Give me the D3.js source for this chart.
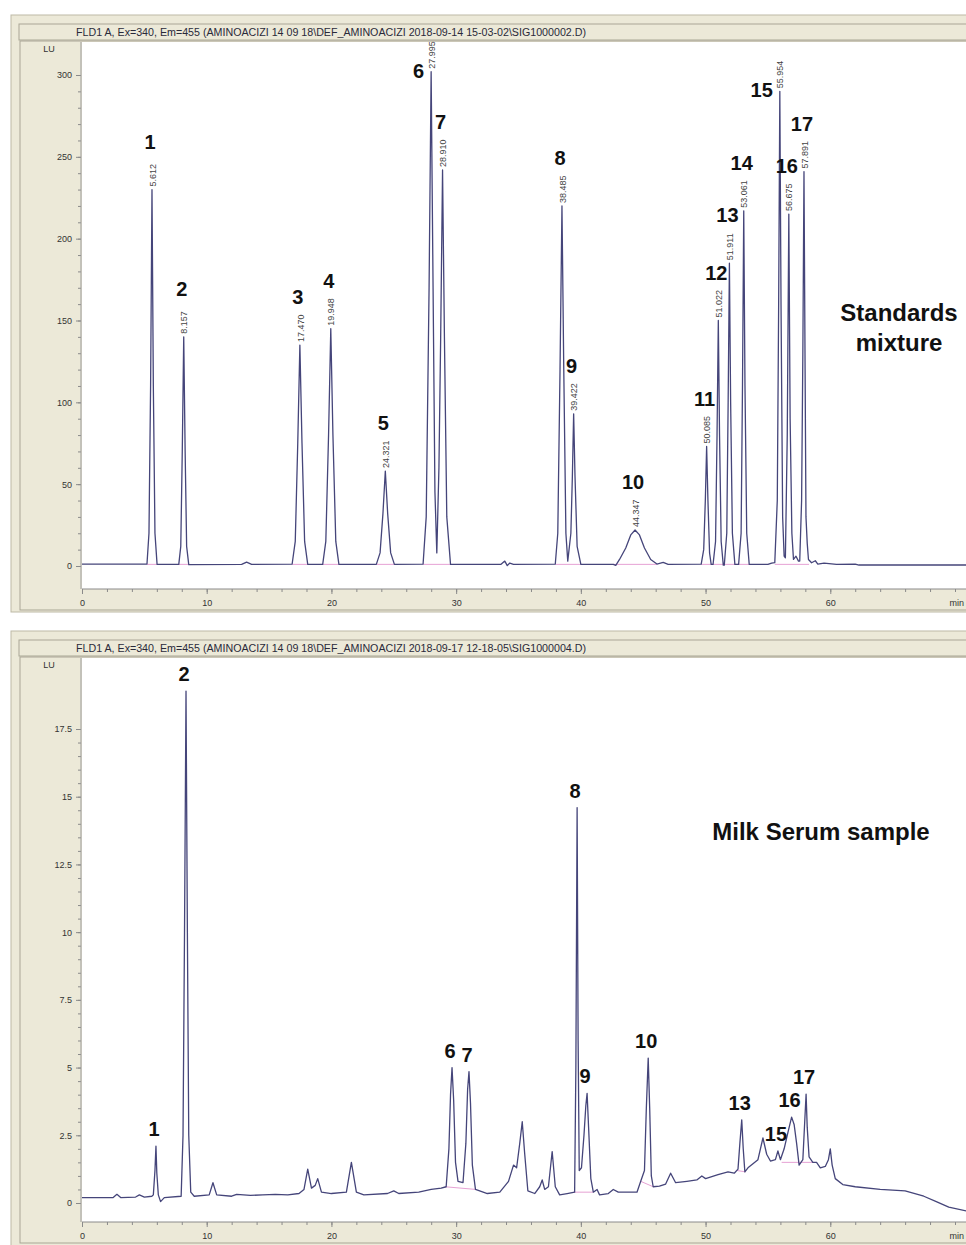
<!DOCTYPE html>
<html>
<head>
<meta charset="utf-8">
<script src="https://cdn.jsdelivr.net/npm/d3@7"></script>
<style>
  body { margin: 0; background: #fff; }
  svg { display: block; font-family: Arial, "Liberation Sans", sans-serif; }
</style>
</head>
<body>
<svg id="chart" width="966" height="1245"></svg>
<script>
// --- data (time in min, signal in LU) ---

var stdTitle = "FLD1 A, Ex=340, Em=455 (AMINOACIZI  14 09 18\\DEF_AMINOACIZI 2018-09-14 15-03-02\\SIG1000002.D)";
var milkTitle = "FLD1 A, Ex=340, Em=455 (AMINOACIZI  14 09 18\\DEF_AMINOACIZI 2018-09-17 12-18-05\\SIG1000004.D)";

var timeTicks = [0, 10, 20, 30, 40, 50, 60];
var stdTicks = [0, 50, 100, 150, 200, 250, 300];
var milkTicks = [0, 2.5, 5, 7.5, 10, 12.5, 15, 17.5];

// standards mixture trace
var stdTrace = [
  [0, 1.2], [5.0, 1.2],
  [5.21, 1.2], [5.37, 20], [5.5, 110], [5.612, 230], [5.72, 110], [5.85, 20], [6.02, 1.0],
  [7.7, 1.0],
  [7.76, 1.0], [7.92, 12], [8.04, 70], [8.157, 140], [8.27, 70], [8.39, 12], [8.56, 0.8],
  [12.8, 1.0], [13.2, 2.4], [13.6, 1.0],
  [16.85, 1.2], [17.1, 15], [17.3, 75], [17.47, 135], [17.64, 75], [17.85, 15], [18.1, 1.0],
  [19.3, 1.0], [19.55, 15], [19.77, 80], [19.948, 145], [20.12, 80], [20.35, 15], [20.6, 1.0],
  [23.6, 1.0], [23.9, 8], [24.13, 32], [24.321, 58], [24.51, 32], [24.75, 8], [25.05, 1.0],
  [27.35, 1.2], [27.6, 30], [27.83, 170], [27.995, 302], [28.15, 170], [28.3, 45], [28.45, 8],
  [28.62, 60], [28.76, 140], [28.91, 242], [29.06, 140], [29.25, 30], [29.55, 1.0],
  [33.6, 1.0], [33.9, 3], [34.1, 0.2], [34.3, 1.8], [34.6, 1.0],
  [37.95, 1.2], [38.15, 20], [38.33, 120], [38.485, 220], [38.63, 120], [38.8, 20], [38.95, 3],
  [39.2, 20], [39.32, 55], [39.422, 93], [39.53, 55], [39.7, 12], [40.0, 1.0],
  [42.6, 1.0], [42.8, 0.4], [43.1, 4], [43.6, 11], [44.0, 19], [44.347, 22], [44.7, 19],
  [45.1, 11], [45.6, 4], [46.1, 1.2], [46.6, 2.2], [47.0, 1.0],
  [49.65, 1.2], [49.85, 10], [49.98, 40], [50.085, 73], [50.19, 40], [50.32, 8], [50.45, 1],
  [50.6, 1], [50.8, 15], [50.92, 80], [51.022, 150], [51.12, 80], [51.25, 15], [51.42, 0.5],
  [51.5, 0.5], [51.7, 20], [51.81, 100], [51.911, 185], [52.01, 100], [52.15, 20], [52.35, 1],
  [52.65, 1], [52.85, 20], [52.96, 110], [53.061, 217], [53.16, 110], [53.3, 20], [53.5, 1],
  [55.0, 1], [55.3, 1.8], [55.55, 2],
  [55.75, 40], [55.86, 160], [55.954, 290], [56.05, 160], [56.18, 30], [56.3, 6],
  [56.4, 5], [56.55, 80], [56.675, 215], [56.78, 90], [56.92, 20], [57.05, 4], [57.25, 6], [57.45, 3],
  [57.55, 3], [57.7, 40], [57.8, 130], [57.891, 241], [57.98, 120], [58.05, 30], [58.15, 14],
  [58.25, 4], [58.5, 2], [58.8, 3.2], [59.0, 1.2], [59.5, 1.8], [60.5, 1],
  [62.0, 1.2], [62.3, 0.6], [71, 0.6]
];

// standards peaks: number, retention time, apex height
var stdPeakNo = [1, 2, 3, 4, 5, 6, 7, 8, 9, 10, 11, 12, 13, 14, 15, 16, 17];
var stdPeakRt = [5.612, 8.157, 17.470, 19.948, 24.321, 27.995, 28.910, 38.485, 39.422,
  44.347, 50.085, 51.022, 51.911, 53.061, 55.954, 56.675, 57.891];
var stdPeakTop = [230, 140, 135, 145, 58, 302, 242, 220, 93, 22, 73, 150, 185, 217, 290, 215, 241];

// integration baselines (t start, t end) at the trace baseline
var stdBaselines = [[5.2, 6.0], [7.75, 8.55], [16.85, 18.1], [19.3, 20.6], [23.6, 25.05],
  [27.35, 29.55], [37.95, 40.0], [42.6, 46.1], [49.65, 53.5], [55.55, 58.3]];

// milk serum sample trace
var milkTrace = [
  [0, 0.2], [2.5, 0.2], [2.8, 0.32], [3.1, 0.2], [4.3, 0.22], [4.6, 0.3], [5.0, 0.22], [5.6, 0.25],
  [5.72, 0.3], [5.85, 1.2], [5.93, 2.1], [6.0, 1.1], [6.12, 0.3], [6.3, 0.05], [6.6, 0.2],
  [7.95, 0.25], [8.1, 2.5], [8.22, 10], [8.34, 18.9], [8.45, 10], [8.56, 2.5], [8.72, 0.4], [9.0, 0.25],
  [10.2, 0.3], [10.5, 0.75], [10.8, 0.3],
  [12.0, 0.25], [12.4, 0.32], [13.5, 0.28], [14.5, 0.3], [15.5, 0.32], [16.5, 0.3], [17.4, 0.35],
  [17.8, 0.5], [18.1, 1.25], [18.4, 0.55], [18.7, 0.65], [18.9, 0.9], [19.2, 0.4], [20.0, 0.35],
  [21.2, 0.4], [21.6, 1.5], [22.0, 0.4], [22.6, 0.3], [24.5, 0.35], [25.0, 0.45], [25.4, 0.35],
  [27.0, 0.4], [28.0, 0.5], [28.8, 0.55],
  [29.2, 0.6], [29.42, 2.0], [29.55, 4.0], [29.67, 5.0], [29.8, 3.8], [29.95, 1.5], [30.15, 0.8],
  [30.55, 0.75], [30.78, 2.2], [30.92, 4.2], [31.03, 4.85], [31.15, 3.7], [31.3, 1.4], [31.55, 0.5],
  [32.5, 0.35], [33.5, 0.4], [34.2, 0.8], [34.6, 1.4], [34.85, 1.3], [35.1, 2.2], [35.3, 3.0],
  [35.5, 1.8], [35.75, 0.45], [36.3, 0.35], [36.7, 0.6], [36.9, 0.85], [37.1, 0.5], [37.4, 0.6],
  [37.7, 1.9], [37.95, 0.6], [38.3, 0.3], [38.9, 0.35],
  [39.5, 0.4], [39.6, 5], [39.7, 14.6], [39.78, 6], [39.87, 1.2],
  [40.05, 1.3], [40.25, 2.5], [40.4, 3.6], [40.5, 4.05], [40.62, 2.8], [40.8, 0.9], [41.0, 0.4],
  [41.3, 0.5], [41.5, 0.3], [42.2, 0.35], [42.6, 0.5], [43.0, 0.4], [44.5, 0.4], [44.8, 0.8],
  [45.1, 1.2], [45.25, 3.5], [45.4, 5.35], [45.52, 3.5], [45.65, 1.0], [45.8, 0.6],
  [46.3, 0.62], [46.8, 0.7], [47.2, 1.1], [47.6, 0.75], [48.5, 0.8], [49.3, 0.85], [49.7, 1.0],
  [50.0, 0.9], [51.0, 1.05], [51.8, 1.15], [52.3, 1.1],
  [52.6, 1.25], [52.75, 2.2], [52.9, 3.07], [53.02, 2.0], [53.15, 1.15], [53.4, 1.3],
  [53.8, 1.45], [54.2, 1.6], [54.6, 2.4], [54.9, 1.8], [55.2, 1.55], [55.6, 1.6], [55.8, 1.92],
  [56.0, 1.6], [56.3, 2.0], [56.6, 2.6], [56.9, 3.17], [57.1, 2.9], [57.3, 2.2], [57.5, 1.4],
  [57.8, 1.6], [57.95, 3.0], [58.06, 4.02], [58.15, 2.8], [58.3, 1.7], [58.6, 1.5], [58.9, 1.5],
  [59.2, 1.3], [59.6, 1.35], [59.85, 1.6], [60.0, 2.0], [60.15, 1.4], [60.4, 0.9], [61.0, 0.68],
  [62.0, 0.6], [64.0, 0.5], [66.0, 0.45], [67.5, 0.25], [68.5, 0.05], [69.5, -0.15], [71, -0.3]
];

var milkPeakNo = [1, 2, 6, 7, 8, 9, 10, 13, 15, 16, 17];
var milkPeakRt = [5.93, 8.34, 29.67, 31.03, 39.7, 40.5, 45.4, 52.9, 55.8, 56.9, 58.06];
var milkPeakTop = [2.1, 18.9, 5.0, 4.85, 14.6, 4.05, 5.35, 3.07, 1.92, 3.17, 4.02];

// integration baselines (t1, v1, t2, v2)
var milkBaselines = [[29.1, 0.6, 31.6, 0.5], [39.4, 0.4, 41.0, 0.4], [44.8, 0.8, 45.8, 0.6],
  [52.5, 1.2, 53.2, 1.15], [56.1, 1.5, 58.7, 1.5]];

// --- drawing ---

var svg = d3.select("#chart");
var beige = "#ece9d8";
var traceColor = "#45457a";
var pink = "#e6a2d4";

var x = d3.scaleLinear().domain([0, 70]).range([82, 955]);

function drawPanel(p) {
  var g = svg.append("g");
  var y = d3.scaleLinear().domain(p.domain).range(p.range);

  // window frame
  g.append("rect").attr("x", 11).attr("y", p.top).attr("width", 980).attr("height", p.bottom - p.top)
    .attr("fill", beige).attr("stroke", "#bdb9a6");
  g.append("rect").attr("x", 19).attr("y", p.top + 9).attr("width", 970).attr("height", 16)
    .attr("fill", beige).attr("stroke", "#a9a695");
  g.append("text").attr("x", 76).attr("y", p.top + 20.5)
    .attr("font-size", 10).attr("textLength", 510).attr("lengthAdjust", "spacingAndGlyphs")
    .attr("fill", "#2a2a3a").text(p.title);
  g.append("rect").attr("x", 20).attr("y", p.plotTop - 1).attr("width", 970)
    .attr("height", p.axisY - p.plotTop + 22)
    .attr("fill", beige).attr("stroke", "#a9a695");

  // white plot area
  g.append("rect").attr("x", 82).attr("y", p.plotTop).attr("width", 900)
    .attr("height", p.axisY - p.plotTop).attr("fill", "#fff");

  var clipId = "clip" + p.top;
  svg.append("clipPath").attr("id", clipId).append("rect")
    .attr("x", 82).attr("y", p.plotTop).attr("width", 900).attr("height", p.axisY - p.plotTop);

  // y axis
  var yMinor = d3.range(p.domain[0], p.domain[1] + 0.0001, p.minorStep)
    .filter(function(v) { return y(v) >= p.plotTop; });
  g.append("g").attr("transform", "translate(81,0)")
    .call(d3.axisLeft(y).tickValues(yMinor).tickSize(3).tickFormat(""))
    .call(function(a) { a.select(".domain").remove(); });
  var yAx = g.append("g").attr("transform", "translate(81,0)")
    .call(d3.axisLeft(y).tickValues(p.ticks).tickSize(5).tickPadding(4).tickFormat(d3.format("")));
  yAx.select(".domain").remove();
  g.selectAll(".tick line").attr("stroke", "#8a8a8a");
  yAx.selectAll("text").attr("font-size", 9).attr("fill", "#333");
  g.append("line").attr("x1", 81).attr("x2", 81).attr("y1", p.plotTop).attr("y2", p.axisY)
    .attr("stroke", "#9a9a9a");
  g.append("text").attr("x", 49).attr("y", p.plotTop + 10).attr("text-anchor", "middle")
    .attr("font-size", 9).attr("fill", "#333").text("LU");

  // x axis
  g.append("g").attr("transform", "translate(0," + p.axisY + ")")
    .call(d3.axisBottom(x).tickValues(d3.range(0, 71, 2)).tickSize(3).tickFormat(""))
    .call(function(a) { a.select(".domain").remove(); a.selectAll("line").attr("stroke", "#8a8a8a"); });
  var xAx = g.append("g").attr("transform", "translate(0," + p.axisY + ")")
    .call(d3.axisBottom(x).tickValues(timeTicks).tickSize(5).tickPadding(6).tickFormat(d3.format("")));
  xAx.select(".domain").attr("stroke", "#8a8a8a").attr("d", "M82,0H990");
  xAx.selectAll("line").attr("stroke", "#8a8a8a");
  xAx.selectAll("text").attr("font-size", 9).attr("fill", "#333");
  g.append("text").attr("x", 964).attr("y", p.axisY + 17).attr("text-anchor", "end")
    .attr("font-size", 9).attr("fill", "#333").text("min");

  var plot = g.append("g").attr("clip-path", "url(#" + clipId + ")");

  // integration baselines
  plot.selectAll("line.base").data(p.baselines).enter().append("line")
    .attr("x1", function(d) { return x(d[0]); }).attr("x2", function(d) { return x(d[2]); })
    .attr("y1", function(d) { return y(d[1]); }).attr("y2", function(d) { return y(d[3]); })
    .attr("stroke", pink).attr("stroke-width", 1);

  // signal
  plot.append("path").datum(p.trace)
    .attr("d", d3.line().x(function(d) { return x(d[0]); }).y(function(d) { return y(d[1]); }))
    .attr("fill", "none").attr("stroke", traceColor).attr("stroke-width", 1.3)
    .attr("stroke-linejoin", "round");

  // retention time labels (standards only)
  if (p.rtLabels) {
    g.selectAll("text.rt").data(p.peakRt).enter().append("text")
      .attr("transform", function(d, i) {
        return "translate(" + (x(d) + 0.5) + "," + (y(p.peakTop[i]) - 3) + ") rotate(-90)";
      })
      .attr("dy", "0.35em").attr("font-size", 9).attr("fill", "#444")
      .text(function(d) { return d.toFixed(3); });
  }

  // peak numbers
  g.selectAll("text.no").data(p.peakNo).enter().append("text")
    .attr("x", function(d, i) {
      return p.sideLabels.indexOf(d) >= 0 ? x(p.peakRt[i]) - 7 : x(p.peakRt[i]) - 2;
    })
    .attr("y", function(d, i) {
      return p.sideLabels.indexOf(d) >= 0 ? y(p.peakTop[i]) + 6 : y(p.peakTop[i]) - p.labelGap;
    })
    .attr("text-anchor", function(d) { return p.sideLabels.indexOf(d) >= 0 ? "end" : "middle"; })
    .attr("font-size", 20).attr("font-weight", "bold").attr("fill", "#111")
    .text(function(d) { return d; });

  // sample name
  p.caption.forEach(function(line, i) {
    g.append("text").attr("x", p.captionX).attr("y", p.captionY + i * 30)
      .attr("text-anchor", "middle").attr("font-size", 24).attr("font-weight", "bold")
      .attr("fill", "#111").text(line);
  });
}

drawPanel({
  top: 15, bottom: 612, plotTop: 42, axisY: 589,
  domain: [0, 300], range: [566, 75], ticks: stdTicks, minorStep: 10,
  title: stdTitle, trace: stdTrace,
  baselines: stdBaselines.map(function(b) { return [b[0], 1, b[1], 1]; }),
  peakNo: stdPeakNo, peakRt: stdPeakRt, peakTop: stdPeakTop,
  rtLabels: true, labelGap: 41, sideLabels: [6, 15],
  caption: ["Standards", "mixture"], captionX: 899, captionY: 321
});

drawPanel({
  top: 631, bottom: 1260, plotTop: 658, axisY: 1222,
  domain: [0, 17.5], range: [1203, 729], ticks: milkTicks, minorStep: 0.5,
  title: milkTitle, trace: milkTrace, baselines: milkBaselines,
  peakNo: milkPeakNo, peakRt: milkPeakRt, peakTop: milkPeakTop,
  rtLabels: false, labelGap: 10, sideLabels: [],
  caption: ["Milk Serum sample"], captionX: 821, captionY: 840
});
</script>
</body>
</html>
